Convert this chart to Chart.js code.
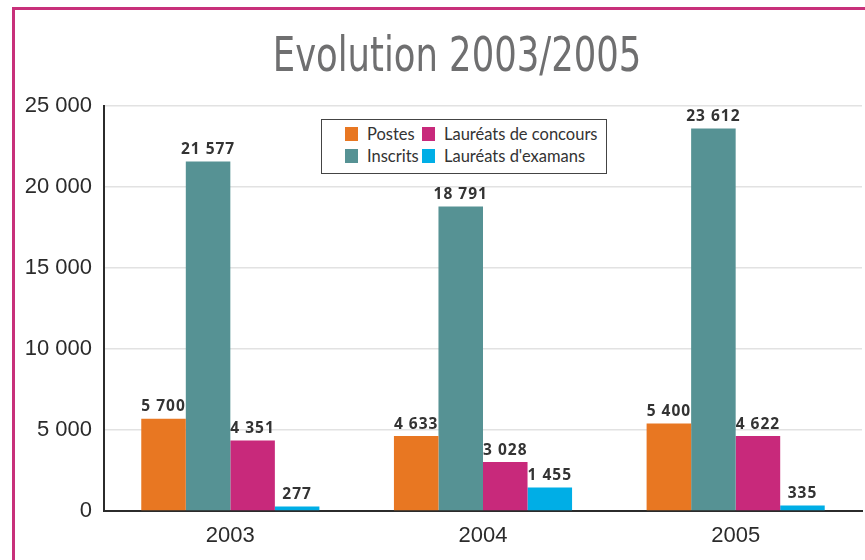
<!DOCTYPE html>
<html>
<head>
<meta charset="utf-8">
<script src="https://cdn.jsdelivr.net/npm/chart.js@4"></script>
<style>
	html, body { margin: 0; padding: 0; background: #fff; }
	#wrap { position: relative; width: 865px; height: 560px; overflow: hidden; }
	#chart { position: absolute; left: 0; top: 0; }
	#frame { position: absolute; left: 12px; top: 7px; width: 860px; height: 560px; border-left: 3px solid #c8307a; border-top: 3px solid #c8307a; pointer-events: none; }
	#title { position: absolute; left: 0; top: 26px; width: 914px; text-align: center; font: 48px 'Liberation Sans Narrow', 'DejaVu Sans Condensed', sans-serif; color: #6f6f70; transform: scaleX(0.82); transform-origin: 457px 0; }
	#legend { position: absolute; left: 321px; top: 119px; width: 286px; height: 55px; box-sizing: border-box; border: 1px solid #444; background: #fff; }
	.lg-item { position: absolute; display: flex; align-items: center; font: 16.5px Lato, sans-serif; color: #333; white-space: nowrap; }
	.lg-box { width: 13px; height: 14px; margin-right: 9px; }
</style>
</head>
<body>
<div id="wrap">
	<canvas id="chart" width="865" height="560"></canvas>
	<div id="title">Evolution 2003/2005</div>
	<div id="legend"></div>
	<div id="frame"></div>
</div>
<script>
	// data
	const years = ['2003', '2004', '2005'];
	const series_names = ['Postes', 'Inscrits', 'Lauréats de concours', "Lauréats d'examans"];
	const postes = [5700, 4633, 5400];
	const inscrits = [21577, 18791, 23612];
	const laureats_concours = [4351, 3028, 4622];
	const laureats_examens = [277, 1455, 335];
	const y_ticks = [0, 5000, 10000, 15000, 20000, 25000];

	const colors = ['#e87722', '#569294', '#c8297b', '#00aee6'];

	function fmt(n) {
		return String(n).replace(/\B(?=(\d{3})+(?!\d))/g, ' ');
	}

	let all_values = [postes, inscrits, laureats_concours, laureats_examens];

	// value labels above each bar
	const value_labels = {
		id: 'value_labels',
		afterDatasetsDraw(chart) {
			let ctx = chart.ctx;
			ctx.save();
			ctx.font = 'bold 15.5px "Open Sans", sans-serif';
			ctx.letterSpacing = '1px';
			ctx.fillStyle = '#333';
			ctx.textAlign = 'center';
			ctx.textBaseline = 'bottom';
			chart.data.datasets.forEach((ds, i) => {
				chart.getDatasetMeta(i).data.forEach((bar, j) => {
					ctx.fillText(fmt(ds.data[j]), bar.x, bar.y - 4);
				});
			});
			ctx.restore();
		}
	};

	let ctx = document.getElementById('chart').getContext('2d');
	let chart = new Chart(ctx, {
		type: 'bar',
		data: {
			labels: years,
			datasets: all_values.map((vals, i) => ({
				label: series_names[i],
				data: vals,
				backgroundColor: colors[i],
				borderWidth: 0,
				categoryPercentage: 0.705,
				barPercentage: 1.0
			}))
		},
		options: {
			responsive: false,
			animation: false,
			layout: { padding: { top: 106, right: 3, bottom: 0, left: 0 } },
			plugins: {
				legend: { display: false },
				tooltip: { enabled: false }
			},
			scales: {
				x: {
					grid: { display: false, drawTicks: false },
					border: { color: '#2b2b2b', width: 2 },
					ticks: { color: '#2b2b2b', font: { size: 22, family: 'Liberation Sans' }, padding: 12 },
					afterFit: s => { s.height = 49; }
				},
				y: {
					min: 0,
					max: 25000,
					afterBuildTicks: s => { s.ticks = y_ticks.map(v => ({ value: v })); },
					grid: { color: '#e2e2e2', lineWidth: 1.5, drawTicks: false },
					border: { color: '#2b2b2b', width: 2 },
					ticks: {
						color: '#2b2b2b',
						font: { size: 22, family: 'Liberation Sans' },
						padding: 12,
						callback: v => fmt(v)
					},
					afterFit: s => { s.width = 104; }
				}
			}
		},
		plugins: [value_labels]
	});

	// html legend, filled column by column
	let legend = document.getElementById('legend');
	series_names.forEach((name, i) => {
		let col = Math.floor(i / 2), row = i % 2;
		let item = document.createElement('div');
		item.className = 'lg-item';
		item.style.left = (23 + col * 77) + 'px';
		item.style.top = (4 + row * 22) + 'px';
		item.innerHTML = `<span class="lg-box" style="background:${colors[i]}"></span><span>${name}</span>`;
		legend.appendChild(item);
	});
</script>
</body>
</html>
